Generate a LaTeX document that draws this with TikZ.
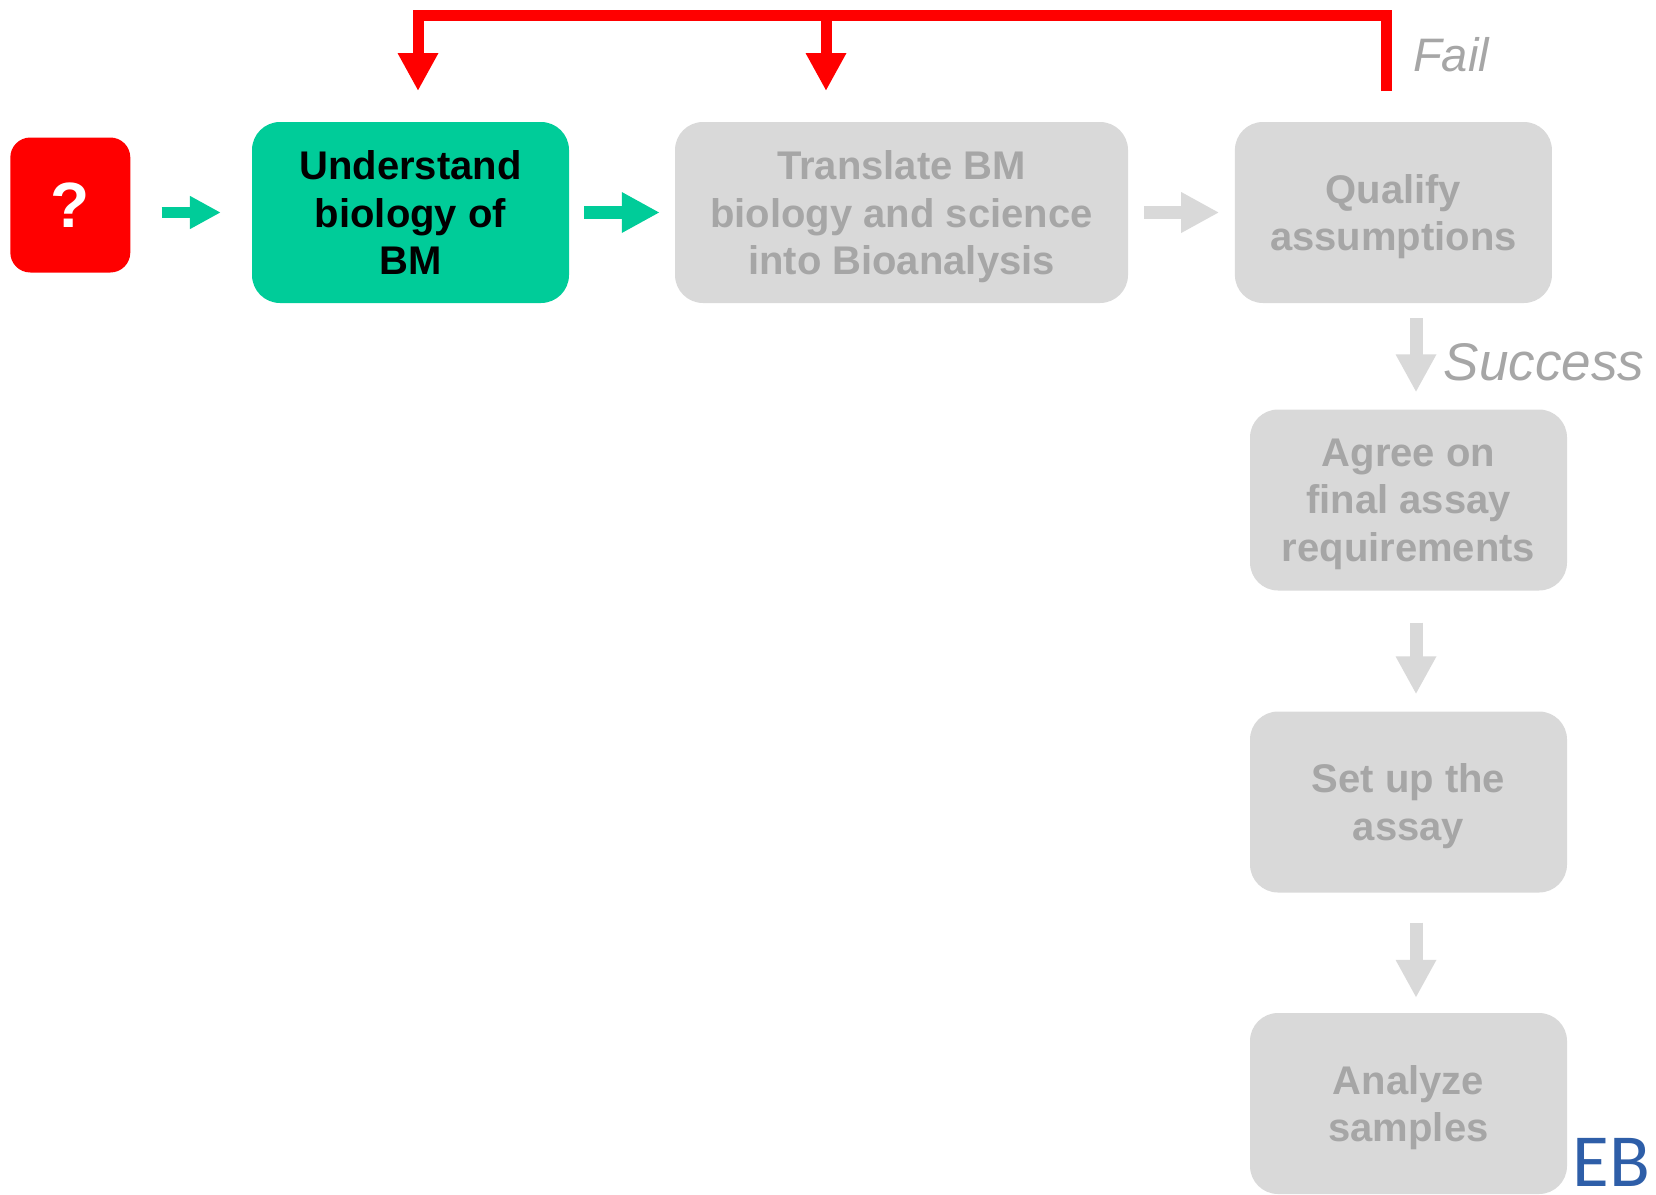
\documentclass[tikz,border=0pt]{standalone}
\usepackage{fontspec}
\setmainfont{Liberation Sans}
\newfontfamily\ebfont{Carlito}
\usetikzlibrary{arrows.meta}
\definecolor{boxgray}{HTML}{D9D9D9}
\definecolor{txtgray}{HTML}{A6A6A6}
\definecolor{mygreen}{HTML}{00CC99}
\definecolor{myred}{HTML}{FF0000}
\definecolor{ebblue}{HTML}{2E5EA8}
\tikzset{
  stepbox/.style={rectangle, rounded corners=28pt, minimum width=317pt, minimum height=181pt,
    inner sep=0pt},
  boxtext/.style={inner sep=0pt, align=center, yshift=-4.2pt,
    font=\fontsize{40pt}{47.5pt}\selectfont\bfseries},
  graybox/.style={stepbox, fill=boxgray},
  greenbox/.style={stepbox, fill=mygreen},
  graytext/.style={boxtext, text=txtgray},
  greentext/.style={boxtext, text=black},
  qbox/.style={rectangle, rounded corners=20pt, minimum width=120pt, minimum height=135pt,
    inner sep=0pt, fill=myred, text=white, font=\fontsize{64pt}{66pt}\selectfont\bfseries},
  blockarrow/.style={line width=13pt, -{Triangle[length=38pt,width=38pt]}},
  smallarrow/.style={line width=10.7pt, -{Triangle[length=31pt,width=31pt]}},
  redline/.style={draw=myred, line width=11pt, line join=miter},
  redtip/.style={-{Triangle[length=38pt,width=38pt]}},
  lbl/.style={text=txtgray, inner sep=0pt}
}
\begin{document}
\begin{tikzpicture}[x=1pt,y=-1pt]
\useasboundingbox (0,0) rectangle (1656,1194);
\node[qbox] (q) at (70.3,205) {?};
\node[greenbox, label={[greentext]center:Understand\\biology of\\BM\vphantom{y}}] (green) at (410.5,212.5) {};
\node[graybox, minimum width=453pt, label={[graytext]center:Translate BM\\biology and science\\into Bioanalysis}] (trans) at (901.5,212.5) {};
\node[graybox, label={[graytext]center:Qualify\\assumptions}] (qual) at (1393.4,212.5) {};
\node[graybox, label={[graytext]center:Agree on\\final assay\\requirements}] (agree) at (1408.5,500) {};
\node[graybox, label={[graytext]center:Set up the\\assay}] (setup) at (1408.5,802) {};
\node[graybox, label={[graytext]center:Analyze\\samples}] (anal) at (1408.5,1103.5) {};

% horizontal block arrows
\draw[smallarrow, mygreen, shorten <=31pt, shorten >=31pt] (q.east |- green.west) -- (green.west);
\draw[blockarrow, mygreen, shorten <=15pt, shorten >=15pt] (green.east) -- (trans.west);
\draw[blockarrow, boxgray, shorten <=16pt, shorten >=15.5pt] (trans.east) -- (qual.west);

% vertical block arrows
\coordinate (dx) at (1416,0);
\draw[blockarrow, boxgray, shorten <=15pt, shorten >=17pt] (dx |- qual.south) -- (dx |- agree.north);
\draw[blockarrow, boxgray, shorten <=32pt, shorten >=17pt] (dx |- agree.south) -- (dx |- setup.north);
\draw[blockarrow, boxgray, shorten <=30pt, shorten >=15pt] (dx |- setup.south) -- (dx |- anal.north);

% fail loop
\coordinate (failstart) at (1386,91);
\coordinate (top) at (0,15.5);
\coordinate (tipA) at (418,91);
\coordinate (tipB) at (826,91);
\draw[redline, redtip] (failstart) -- (failstart |- top) -| (tipA);
\draw[redline, redtip] (tipB |- top) -- (tipB);

\node[lbl, font=\fontsize{47pt}{50pt}\selectfont\itshape] (fail) at (1451,55) {Fail};
\node[lbl, font=\fontsize{53pt}{56pt}\selectfont\itshape] (succ) at (1544,362) {Success};

\node[anchor=base east, inner sep=0pt, text=ebblue, font=\fontsize{75pt}{78pt}\selectfont\ebfont] (eb) at (1650,1186) {EB};
\end{tikzpicture}
\end{document}
